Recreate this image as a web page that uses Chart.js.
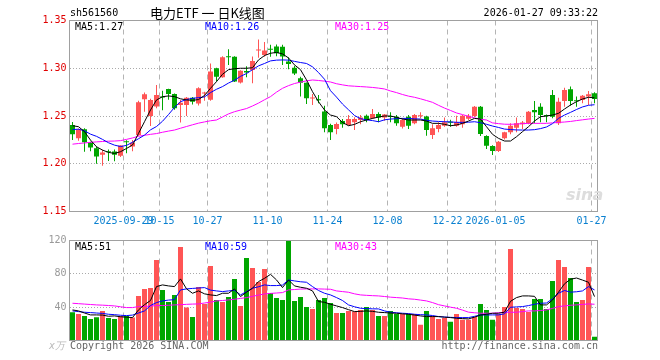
<!DOCTYPE html>
<html>
<head>
<meta charset="utf-8">
<script src="https://cdn.jsdelivr.net/npm/chart.js@4.4.1/dist/chart.umd.min.js"></script>
<style>
    body { margin: 0; background: #fff; }
    #wrap { position: relative; width: 660px; height: 360px; font-family: 'DejaVu Sans Mono', monospace; font-size: 10px; }
    canvas { position: absolute; left: 0; top: 0; }
    .t { position: absolute; white-space: nowrap; line-height: 12px; }
</style>
</head>
<body>
<div id="wrap">
    <canvas id="kChart" width="660" height="360"></canvas>
    <canvas id="volChart" width="660" height="360"></canvas>
    <div class="t" style="left:70px;top:7px;color:#000">sh561560</div>
    <div class="t" style="left:150px;top:5px;line-height:16px;font-family:'Noto Sans CJK SC',sans-serif;font-size:13px;color:#000">电力ETF 一 日K线图</div>
    <div class="t" style="right:62px;top:7px;color:#000">2026-01-27 09:33:22</div>
    <div class="t" style="left:75px;top:21px;color:#000">MA5:1.27</div>
    <div class="t" style="left:205px;top:21px;color:#0000ff">MA10:1.26</div>
    <div class="t" style="left:335px;top:21px;color:#ff00ff">MA30:1.25</div>
    <div class="t" style="left:75px;top:241px;color:#000">MA5:51</div>
    <div class="t" style="left:205px;top:241px;color:#0000ff">MA10:59</div>
    <div class="t" style="left:335px;top:241px;color:#ff00ff">MA30:43</div>
    <div class="t" style="left:49px;top:340px;color:#bbb;font-style:italic">x万</div>
    <div class="t" style="left:70px;top:340px;color:#666">Copyright 2026 SINA.COM</div>
    <div class="t" style="right:62px;top:340px;color:#666">http://finance.sina.com.cn</div>
    <div class="t" style="left:566px;top:186px;line-height:18px;font-family:'DejaVu Sans',sans-serif;font-size:16px;font-weight:bold;font-style:italic;color:#ddd">sina</div>
</div>
<script>
// trading days shown in the chart
const dates = [
    '2025-09-16', '2025-09-17', '2025-09-18', '2025-09-19', '2025-09-22', '2025-09-23', '2025-09-24', '2025-09-25', '2025-09-26', '2025-09-29',
    '2025-09-30', '2025-10-09', '2025-10-10', '2025-10-13', '2025-10-14', '2025-10-15', '2025-10-16', '2025-10-17', '2025-10-20', '2025-10-21',
    '2025-10-22', '2025-10-23', '2025-10-24', '2025-10-27', '2025-10-28', '2025-10-29', '2025-10-30', '2025-10-31', '2025-11-03', '2025-11-04',
    '2025-11-05', '2025-11-06', '2025-11-07', '2025-11-10', '2025-11-11', '2025-11-12', '2025-11-13', '2025-11-14', '2025-11-17', '2025-11-18',
    '2025-11-19', '2025-11-20', '2025-11-21', '2025-11-24', '2025-11-25', '2025-11-26', '2025-11-27', '2025-11-28', '2025-12-01', '2025-12-02',
    '2025-12-03', '2025-12-04', '2025-12-05', '2025-12-08', '2025-12-09', '2025-12-10', '2025-12-11', '2025-12-12', '2025-12-15', '2025-12-16',
    '2025-12-17', '2025-12-18', '2025-12-19', '2025-12-22', '2025-12-23', '2025-12-24', '2025-12-25', '2025-12-26', '2025-12-29', '2025-12-30',
    '2025-12-31', '2026-01-05', '2026-01-06', '2026-01-07', '2026-01-08', '2026-01-09', '2026-01-12', '2026-01-13', '2026-01-14', '2026-01-15',
    '2026-01-16', '2026-01-19', '2026-01-20', '2026-01-21', '2026-01-22', '2026-01-23', '2026-01-26', '2026-01-27'
];

const open = [
    1.2406, 1.2267, 1.2360, 1.2222, 1.2163, 1.2095, 1.2130, 1.2128, 1.2085, 1.2235,
    1.2180, 1.2300, 1.2675, 1.2500, 1.2600, 1.2705, 1.2783, 1.2730, 1.2615, 1.2615,
    1.2690, 1.2630, 1.2735, 1.2670, 1.3000, 1.2906, 1.3125, 1.3120, 1.2850, 1.2970,
    1.2982, 1.3185, 1.3140, 1.3205, 1.3227, 1.3225, 1.3070, 1.3005, 1.2895, 1.2849,
    1.2682, 1.2672, 1.2548, 1.2406, 1.2365, 1.2448, 1.2406, 1.2434, 1.2458, 1.2503,
    1.2476, 1.2520, 1.2483, 1.2497, 1.2493, 1.2388, 1.2493, 1.2424, 1.2497, 1.2495,
    1.2301, 1.2363, 1.2399, 1.2438, 1.2399, 1.2413, 1.2470, 1.2500, 1.2598, 1.2290,
    1.2185, 1.2133, 1.2266, 1.2329, 1.2378, 1.2413, 1.2424, 1.2563, 1.2598, 1.2506,
    1.2720, 1.2424, 1.2657, 1.2780, 1.2660, 1.2668, 1.2703, 1.2738
];
const high = [
    1.2437, 1.2370, 1.2372, 1.2230, 1.2180, 1.2146, 1.2150, 1.2150, 1.2195, 1.2245,
    1.2250, 1.2660, 1.2745, 1.2680, 1.2825, 1.2765, 1.2785, 1.2735, 1.2668, 1.2700,
    1.2700, 1.2800, 1.2755, 1.3050, 1.3005, 1.3125, 1.3200, 1.3125, 1.2980, 1.3020,
    1.3122, 1.3300, 1.3275, 1.3245, 1.3250, 1.3245, 1.3115, 1.3025, 1.2910, 1.2850,
    1.2730, 1.2720, 1.2608, 1.2420, 1.2433, 1.2468, 1.2510, 1.2487, 1.2510, 1.2517,
    1.2573, 1.2538, 1.2520, 1.2538, 1.2510, 1.2476, 1.2510, 1.2520, 1.2538, 1.2503,
    1.2413, 1.2434, 1.2483, 1.2460, 1.2503, 1.2510, 1.2520, 1.2605, 1.2605, 1.2298,
    1.2195, 1.2237, 1.2336, 1.2424, 1.2483, 1.2448, 1.2552, 1.2657, 1.2633, 1.2517,
    1.2773, 1.2692, 1.2797, 1.2808, 1.2703, 1.2720, 1.2762, 1.2748
];
const low = [
    1.2249, 1.2240, 1.2126, 1.2130, 1.2000, 1.1980, 1.2030, 1.2025, 1.2070, 1.2110,
    1.2130, 1.2290, 1.2545, 1.2395, 1.2580, 1.2560, 1.2670, 1.2565, 1.2432, 1.2500,
    1.2620, 1.2610, 1.2660, 1.2660, 1.2860, 1.2900, 1.3035, 1.2855, 1.2840, 1.2905,
    1.2843, 1.3110, 1.3120, 1.3120, 1.3125, 1.3035, 1.2990, 1.2930, 1.2703, 1.2626,
    1.2615, 1.2633, 1.2330, 1.2248, 1.2308, 1.2378, 1.2398, 1.2353, 1.2413, 1.2434,
    1.2469, 1.2434, 1.2450, 1.2434, 1.2398, 1.2370, 1.2364, 1.2413, 1.2476, 1.2294,
    1.2260, 1.2330, 1.2388, 1.2388, 1.2388, 1.2378, 1.2458, 1.2490, 1.2290, 1.2154,
    1.2091, 1.2122, 1.2255, 1.2308, 1.2329, 1.2364, 1.2413, 1.2424, 1.2434, 1.2434,
    1.2476, 1.2406, 1.2598, 1.2608, 1.2598, 1.2633, 1.2615, 1.2633
];
const close = [
    1.2310, 1.2358, 1.2224, 1.2170, 1.2077, 1.2118, 1.2120, 1.2094, 1.2190, 1.2225,
    1.2220, 1.2643, 1.2727, 1.2667, 1.2720, 1.2695, 1.2730, 1.2580, 1.2640, 1.2690,
    1.2650, 1.2790, 1.2745, 1.2965, 1.2912, 1.3115, 1.3115, 1.2860, 1.2975, 1.2955,
    1.3076, 1.3195, 1.3185, 1.3195, 1.3157, 1.3122, 1.3045, 1.2945, 1.2847, 1.2685,
    1.2688, 1.2665, 1.2371, 1.2330, 1.2415, 1.2413, 1.2468, 1.2468, 1.2483, 1.2458,
    1.2520, 1.2483, 1.2517, 1.2490, 1.2424, 1.2458, 1.2399, 1.2510, 1.2503, 1.2353,
    1.2371, 1.2406, 1.2434, 1.2430, 1.2434, 1.2503, 1.2503, 1.2598, 1.2311, 1.2189,
    1.2133, 1.2230, 1.2329, 1.2399, 1.2424, 1.2431, 1.2545, 1.2538, 1.2510, 1.2500,
    1.2493, 1.2650, 1.2773, 1.2657, 1.2654, 1.2713, 1.2727, 1.2678
];

// volume, unit: 10k
const volume = [
    33.9, 31.9, 29.5, 25.9, 28.0, 35.5, 27.1, 25.9, 29.5, 29.5,
    27.5, 53.5, 61.9, 63.1, 96.6, 60.7, 46.3, 54.7, 112.2, 39.5,
    28.3, 64.3, 43.9, 89.4, 48.7, 46.3, 52.3, 73.9, 41.5, 99.0,
    87.0, 70.3, 85.8, 57.1, 51.1, 48.7, 122.0, 47.5, 52.3, 40.3,
    37.9, 48.7, 51.1, 45.0, 33.1, 33.1, 35.5, 34.7, 36.7, 40.3,
    36.7, 29.5, 29.5, 35.5, 31.9, 31.9, 31.9, 31.9, 18.8, 35.5,
    29.5, 25.9, 27.1, 22.4, 31.9, 24.8, 24.8, 28.3, 43.9, 36.7,
    24.8, 31.9, 40.3, 109.8, 39.1, 37.9, 34.3, 49.9, 49.9, 37.9,
    71.5, 96.6, 88.2, 75.0, 46.3, 48.7, 88.2, 4.4
];

// price moving averages
const ma5 = [
    1.2398, 1.2388, 1.2336, 1.2248, 1.2178, 1.2143, 1.2119, 1.2108, 1.2126, 1.2160,
    1.2196, 1.2318, 1.2440, 1.2563, 1.2668, 1.2702, 1.2710, 1.2703, 1.2680, 1.2668,
    1.2664, 1.2672, 1.2715, 1.2790, 1.2860, 1.2937, 1.2985, 1.2995, 1.3000, 1.3000,
    1.3005, 1.3087, 1.3133, 1.3157, 1.3166, 1.3150, 1.3108, 1.3035, 1.2985, 1.2878,
    1.2755, 1.2650, 1.2563, 1.2510, 1.2493, 1.2433, 1.2398, 1.2412, 1.2440, 1.2458,
    1.2475, 1.2489, 1.2500, 1.2500, 1.2486, 1.2468, 1.2458, 1.2458, 1.2458, 1.2447,
    1.2423, 1.2423, 1.2413, 1.2398, 1.2406, 1.2423, 1.2447, 1.2475, 1.2468, 1.2388,
    1.2308, 1.2266, 1.2238, 1.2238, 1.2283, 1.2336, 1.2388, 1.2447, 1.2493, 1.2500,
    1.2510, 1.2528, 1.2573, 1.2615, 1.2650, 1.2678, 1.2696, 1.2690
];
const ma10 = [
    1.2358, 1.2362, 1.2345, 1.2310, 1.2287, 1.2255, 1.2220, 1.2195, 1.2180, 1.2192,
    1.2225, 1.2262, 1.2300, 1.2355, 1.2390, 1.2445, 1.2515, 1.2590, 1.2650, 1.2672,
    1.2685, 1.2692, 1.2700, 1.2745, 1.2780, 1.2808, 1.2845, 1.2875, 1.2915, 1.2945,
    1.2985, 1.3025, 1.3050, 1.3077, 1.3085, 1.3087, 1.3085, 1.3072, 1.3060, 1.3050,
    1.3015, 1.2955, 1.2885, 1.2765, 1.2698, 1.2625, 1.2565, 1.2505, 1.2472, 1.2460,
    1.2452, 1.2440, 1.2460, 1.2468, 1.2472, 1.2475, 1.2475, 1.2470, 1.2468, 1.2455,
    1.2447, 1.2443, 1.2440, 1.2438, 1.2434, 1.2433, 1.2435, 1.2440, 1.2430, 1.2413,
    1.2395, 1.2380, 1.2363, 1.2358, 1.2354, 1.2353, 1.2353, 1.2357, 1.2368, 1.2385,
    1.2420, 1.2475, 1.2510, 1.2538, 1.2568, 1.2595, 1.2612, 1.2618
];
const ma30 = [
    1.2205, 1.2212, 1.2218, 1.2224, 1.2229, 1.2233, 1.2236, 1.2238, 1.2242, 1.2255,
    1.2270, 1.2288, 1.2298, 1.2308, 1.2316, 1.2330, 1.2342, 1.2353, 1.2372, 1.2390,
    1.2408, 1.2425, 1.2438, 1.2450, 1.2458, 1.2490, 1.2522, 1.2545, 1.2562, 1.2578,
    1.2605, 1.2635, 1.2670, 1.2703, 1.2750, 1.2790, 1.2818, 1.2840, 1.2855, 1.2868,
    1.2877, 1.2872, 1.2865, 1.2856, 1.2838, 1.2826, 1.2816, 1.2812, 1.2808, 1.2804,
    1.2799, 1.2792, 1.2783, 1.2762, 1.2745, 1.2725, 1.2708, 1.2696, 1.2680, 1.2662,
    1.2643, 1.2612, 1.2583, 1.2558, 1.2532, 1.2515, 1.2497, 1.2480, 1.2466, 1.2458,
    1.2428, 1.2420, 1.2414, 1.2413, 1.2416, 1.2420, 1.2423, 1.2423, 1.2423, 1.2423,
    1.2428, 1.2433, 1.2437, 1.2443, 1.2452, 1.2460, 1.2468, 1.2475
];

// volume moving averages
const volMa5 = [
    36.7, 35.5, 33.0, 30.7, 30.7, 30.5, 29.1, 29.5, 28.5, 28.0,
    27.5, 36.7, 43.0, 48.0, 64.7, 66.7, 65.5, 64.7, 73.9, 62.0,
    56.7, 59.5, 56.0, 54.7, 53.9, 56.7, 56.7, 61.9, 52.7, 58.0,
    62.7, 70.7, 74.6, 79.4, 72.7, 63.5, 72.7, 65.5, 63.9, 62.7,
    59.5, 46.7, 45.9, 43.5, 41.5, 39.5, 37.0, 34.7, 35.0, 35.5,
    35.0, 33.9, 33.5, 33.0, 32.7, 32.0, 31.5, 30.5, 29.5, 28.7,
    28.7, 28.7, 28.0, 27.5, 26.7, 26.3, 25.9, 28.0, 30.5, 31.5,
    32.7, 32.7, 34.0, 47.0, 51.5, 53.5, 53.5, 53.0, 42.7, 42.7,
    48.5, 58.0, 68.0, 73.5, 75.0, 72.5, 69.9, 52.7
];
const volMa10 = [
    35.5, 34.7, 33.9, 33.5, 33.0, 32.5, 31.5, 31.0, 30.3, 29.9,
    30.5, 33.0, 35.5, 42.0, 45.5, 47.5, 48.5, 49.0, 60.7, 61.9,
    62.5, 63.0, 63.5, 60.5, 59.5, 58.7, 59.5, 60.3, 54.7, 58.7,
    62.7, 64.5, 66.7, 65.9, 65.9, 66.5, 72.7, 71.5, 70.5, 69.9,
    64.7, 60.0, 56.7, 54.7, 51.5, 48.0, 42.7, 40.5, 38.7, 38.3,
    38.0, 37.9, 35.5, 33.9, 33.3, 32.7, 32.3, 31.5, 31.0, 30.7,
    30.0, 28.7, 28.2, 27.8, 27.5, 27.5, 27.5, 29.0, 30.7, 30.7,
    30.7, 30.7, 32.0, 39.9, 40.3, 40.7, 41.9, 43.5, 44.7, 45.0,
    50.0, 56.7, 60.0, 58.0, 58.5, 59.5, 64.7, 60.7
];
const volMa30 = [
    44.7, 44.2, 43.7, 43.2, 42.7, 42.4, 42.0, 41.5, 40.5, 39.5,
    39.5, 40.7, 41.0, 41.3, 41.9, 42.0, 42.3, 42.7, 43.0, 43.4,
    43.7, 43.9, 45.0, 46.0, 47.5, 48.0, 48.7, 49.5, 50.5, 51.5,
    53.0, 54.5, 55.9, 56.5, 57.0, 57.5, 60.7, 61.2, 61.7, 61.9,
    61.9, 61.9, 61.7, 61.5, 59.5, 58.7, 57.9, 56.0, 54.7, 54.2,
    53.8, 53.5, 52.8, 52.0, 51.5, 51.0, 50.0, 49.5, 48.5, 47.5,
    45.5, 43.0, 41.5, 40.0, 38.7, 36.5, 34.0, 33.3, 32.7, 32.7,
    32.7, 33.3, 33.9, 33.9, 33.9, 34.7, 35.5, 35.5, 36.0, 36.7,
    38.5, 40.7, 41.5, 42.3, 42.7, 43.3, 43.9, 43.5
];

// dates with a dashed grid line and a label
const tickDates = ['2025-09-29', '2025-10-15', '2025-10-27', '2025-11-10', '2025-11-24', '2025-12-08', '2025-12-22', '2026-01-05', '2026-01-27'];
const tickLabels = ['2025-09-29', '10-15', '10-27', '11-10', '11-24', '12-08', '12-22', '2026-01-05', '01-27'];

const RED = '#ff5555';
const GREEN = '#00a600';
const candleColors = dates.map((d, i) => close[i] >= open[i] ? RED : GREEN);

Chart.defaults.font.family = "'DejaVu Sans Mono', monospace";
Chart.defaults.font.size = 10;
Chart.defaults.animation = false;

// gray frame round each plot area
const framePlugin = {
    id: 'frame',
    afterDraw(chart) {
        const { ctx, chartArea: a } = chart;
        ctx.save();
        ctx.strokeStyle = '#a0a0a0';
        ctx.lineWidth = 1;
        ctx.strokeRect(a.left, a.top, a.right - a.left, a.bottom - a.top);
        ctx.restore();
    }
};

function xAxis(showLabels) {
    return {
        type: 'category',
        offset: true,
        grid: {
            offset: true,
            drawTicks: false,
            color: c => tickDates.includes(dates[c.index]) ? '#b4b4b4' : 'rgba(0,0,0,0)'
        },
        border: { display: false, dash: [5, 4] },
        ticks: {
            display: showLabels,
            autoSkip: false,
            maxRotation: 0,
            padding: 4,
            labelOffset: -3,
            color: '#0a80d0',
            callback: (v, i) => {
                const k = tickDates.indexOf(dates[i]);
                return k >= 0 ? tickLabels[k] : '';
            }
        },
        afterFit: s => { s.height = showLabels ? 20 : 0; }
    };
}

function lineSet(data, color) {
    return {
        type: 'line',
        data: data,
        borderColor: color,
        borderWidth: 1,
        pointRadius: 0,
        tension: 0,
        order: 0
    };
}

const baseOptions = {
    responsive: false,
    plugins: { legend: { display: false }, tooltip: { enabled: false } }
};

// K line chart
new Chart(document.getElementById('kChart'), {
    type: 'bar',
    data: {
        labels: dates,
        datasets: [
            lineSet(ma5, '#000000'),
            lineSet(ma10, '#0000ff'),
            lineSet(ma30, '#ff00ff'),
            {
                data: dates.map((d, i) => [open[i], close[i]]),
                backgroundColor: candleColors,
                barThickness: 5,
                minBarLength: 1,
                grouped: false,
                inflateAmount: 0,
                order: 1
            },
            {
                data: dates.map((d, i) => [low[i], high[i]]),
                backgroundColor: candleColors,
                barThickness: 1,
                grouped: false,
                inflateAmount: 0,
                order: 2
            }
        ]
    },
    options: {
        ...baseOptions,
        layout: { padding: { left: 0, right: 62.5, top: 20.5, bottom: 128.5 } },
        scales: {
            x: xAxis(true),
            y: {
                min: 1.15,
                max: 1.35,
                ticks: { stepSize: 0.05, color: '#e00000', padding: 3, callback: v => Number(v).toFixed(2) },
                grid: {
                    drawTicks: false,
                    color: c => (c.tick && c.tick.value > 1.16 && c.tick.value < 1.34) ? '#aaaaaa' : 'rgba(0,0,0,0)'
                },
                border: { display: false, dash: [1, 2] },
                afterFit: s => { s.width = 69.5; }
            }
        }
    },
    plugins: [framePlugin]
});

// volume chart
new Chart(document.getElementById('volChart'), {
    type: 'bar',
    data: {
        labels: dates,
        datasets: [
            lineSet(volMa5, '#000000'),
            lineSet(volMa10, '#0000ff'),
            lineSet(volMa30, '#ff00ff'),
            {
                data: volume,
                backgroundColor: candleColors,
                barThickness: 5,
                grouped: false,
                inflateAmount: 0,
                order: 1
            }
        ]
    },
    options: {
        ...baseOptions,
        layout: { padding: { left: 0, right: 62.5, top: 240.5, bottom: 19.5 } },
        scales: {
            x: xAxis(false),
            y: {
                min: 0,
                max: 120,
                ticks: { stepSize: 40, color: '#999999', padding: 3, callback: v => v === 0 ? '' : v },
                grid: {
                    drawTicks: false,
                    color: c => (c.tick && c.tick.value > 0 && c.tick.value < 120) ? '#aaaaaa' : 'rgba(0,0,0,0)'
                },
                border: { display: false, dash: [1, 2] },
                afterFit: s => { s.width = 69.5; }
            }
        }
    },
    plugins: [framePlugin]
});
</script>
</body>
</html>
